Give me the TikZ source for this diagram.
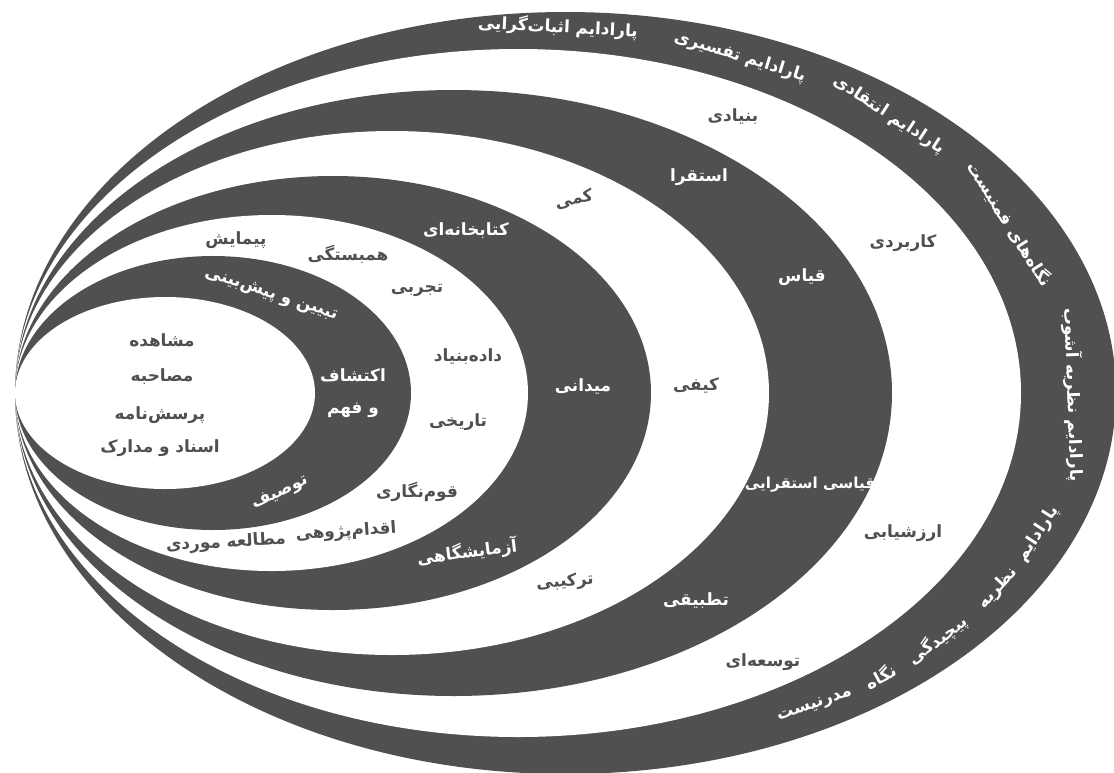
\documentclass[tikz,border=0pt]{standalone}
\usepackage{fontspec}
\usepackage{xcolor}
\newfontfamily\farsi[Script=Arabic]{DejaVu Sans}
\TeXXeTstate=1
\newcommand{\rtl}[1]{\beginR#1\endR}
\definecolor{ringgray}{RGB}{80,80,80}

\begin{document}
\begin{tikzpicture}[
  x=0.025cm, y=-0.025cm,
  lbl/.style={font=\farsi\bfseries\fontsize{12}{16}\selectfont, inner sep=1pt, align=center},
  ondark/.style={lbl, text=white},
  onlight/.style={lbl, text=ringgray}
]
\useasboundingbox (0,0) rectangle (1114,772);
% nested rings, all touching at the left
\foreach \rx/\ry/\col in {550.5/381/ringgray, 503/344/white, 438.5/303/ringgray, 377/262/white,
                          318/217/ringgray, 256.5/178/white, 198/137/ringgray, 150/96/white}
  \fill[\col] ({15+\rx},393) ellipse [x radius=\rx*0.025cm, y radius=\ry*0.025cm];

% outer ring: paradigms
\node[ondark, rotate=-3]  (positivist)   at (558,27)   {\rtl{پارادایم اثبات‌گرایی}};
\node[ondark, rotate=-17] (interpretive) at (740,57)   {\rtl{پارادایم تفسیری}};
\node[ondark, rotate=-33] (critical)     at (889,115)  {\rtl{پارادایم انتقادی}};
\node[ondark, rotate=-58] (feminist)     at (1010,224) {\rtl{نگاه‌های فمنیست}};
\node[ondark, rotate=-88] (chaos)        at (1074,395) {\rtl{پارادایم نظریه آشوب}};
\node[ondark, rotate=57]  (complexA)     at (1038,534) {\rtl{پارادایم}};
\node[ondark, rotate=47]  (complexB)     at (998,588)  {\rtl{نظریه}};
\node[ondark, rotate=37]  (complexC)     at (938,640)  {\rtl{پیچیدگی}};
\node[ondark, rotate=28]  (complexD)     at (880,676)  {\rtl{نگاه}};
\node[ondark, rotate=19]  (complexE)     at (815,706)  {\rtl{مدرنیست}};

% purpose
\node[onlight] (basic)      at (733,117) {\rtl{بنیادی}};
\node[onlight] (applied)    at (903,243) {\rtl{کاربردی}};
\node[onlight] (evaluation) at (903,533) {\rtl{ارزشیابی}};
\node[onlight] (developing) at (763,662) {\rtl{توسعه‌ای}};

% logic
\node[ondark] (induction)   at (699,177) {\rtl{استقرا}};
\node[ondark] (deduction)   at (802,277) {\rtl{قیاس}};
\node[ondark, font=\farsi\bfseries\fontsize{10.8}{14}\selectfont]
              (mixedlogic)  at (810,485) {\rtl{قیاسی استقرایی}};
\node[ondark] (comparative) at (696,601) {\rtl{تطبیقی}};

% approach
\node[onlight, rotate=12] (quant) at (574,199) {\rtl{کمی}};
\node[onlight]            (qual)  at (696,385) {\rtl{کیفی}};
\node[onlight, rotate=5]  (mixed) at (565,582) {\rtl{ترکیبی}};

% setting
\node[ondark]           (library) at (466,231) {\rtl{کتابخانه‌ای}};
\node[ondark]           (field)   at (583,386) {\rtl{میدانی}};
\node[ondark, rotate=7] (lab)     at (467,552) {\rtl{آزمایشگاهی}};

% strategy
\node[onlight]           (survey)      at (236,240) {\rtl{پیمایش}};
\node[onlight]           (correlation) at (348,254) {\rtl{همبستگی}};
\node[onlight]           (experiment)  at (417,290) {\rtl{تجربی}};
\node[onlight]           (grounded)    at (468,357) {\rtl{داده‌بنیاد}};
\node[onlight]           (historical)  at (458,422) {\rtl{تاریخی}};
\node[onlight]           (ethnography) at (417,492) {\rtl{قوم‌نگاری}};
\node[onlight, rotate=4] (action)      at (346,532) {\rtl{اقدام‌پژوهی}};
\node[onlight, rotate=3] (casestudy)   at (226,543) {\rtl{مطالعه موردی}};

% aim
\node[ondark, rotate=-18] (explain)  at (271,295) {\rtl{تبیین و پیش‌بینی}};
\node[ondark]             (explore)  at (353,393) {\rtl{اکتشاف}\\[7pt]\rtl{و فهم}};
\node[ondark, rotate=25]  (describe) at (280,493) {\rtl{توصیف}};

% data collection
\node[onlight] (observation)   at (162,340) {\rtl{مشاهده}};
\node[onlight] (interview)     at (162,377) {\rtl{مصاحبه}};
\node[onlight] (questionnaire) at (160,415) {\rtl{پرسش‌نامه}};
\node[onlight] (documents)     at (160,448) {\rtl{اسناد و مدارک}};
\end{tikzpicture}
\end{document}
